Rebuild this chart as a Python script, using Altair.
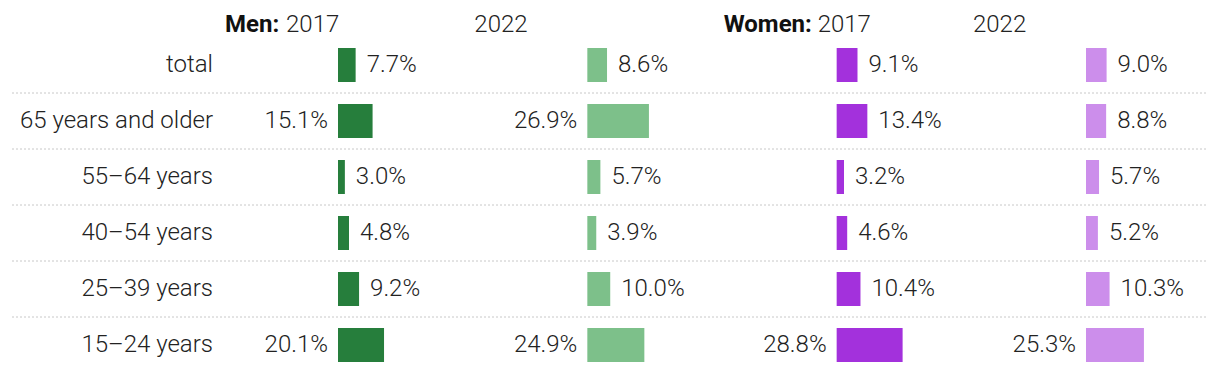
import altair as alt
import pandas as pd

# ---- data ----
ages = ["total", "65 years and older", "55–64 years", "40–54 years", "25–39 years", "15–24 years"]
groups = ["Men 2017", "Men 2022", "Women 2017", "Women 2022"]
men_2017 = [7.7, 15.1, 3.0, 4.8, 9.2, 20.1]
men_2022 = [8.6, 26.9, 5.7, 3.9, 10.0, 24.9]
women_2017 = [9.1, 13.4, 3.2, 4.6, 10.4, 28.8]
women_2022 = [9.0, 8.8, 5.7, 5.2, 10.3, 25.3]
header_sex = ["Men:", "", "Women:", ""]
header_year = ["2017", "2022", "2017", "2022"]
colors = ["#267e3c", "#7dc08a", "#a331dc", "#cc8eeb"]

# ---- layout (pixels) ----
W, H = 1204, 327
PX = 2.29           # pixels per percentage point
COL0 = 217          # left edge of first column (plot coords)
STEP = 249.33       # column pitch
ZERO = 113          # bar baseline offset inside a column
YEAR_DX = [61, 0, 94, 0]
FONT = "Roboto"
FS = 24
TXT = "#222222"

series = [men_2017, men_2022, women_2017, women_2022]
records = []
for k, (g, vals) in enumerate(zip(groups, series)):
    for a, v in zip(ages, vals):
        records.append({"age": a, "group": g, "col": k, "value": v})
df = pd.DataFrame(records)

rows_df = pd.DataFrame({"age": ages})
head_df = pd.DataFrame({"col": list(range(4)), "sex": header_sex, "year": header_year,
                        "ydx": YEAR_DX})

xscale = alt.Scale(domain=[0, W / PX], range=[0, W], nice=False, zero=False)
yscale = alt.Scale(domain=ages, paddingInner=0, paddingOuter=0, range=[0, 336])

base = alt.Chart(df).transform_calculate(
    x0=f"({COL0} + {ZERO} + datum.col * {STEP}) / {PX}",
).transform_calculate(
    x1="datum.x0 + datum.value",
    label="format(datum.value, '.1f') + '%'",
)

bars = base.mark_bar(height={"band": 34 / 56}).encode(
    x=alt.X("x0:Q", scale=xscale, axis=None),
    x2="x1:Q",
    y=alt.Y("age:N", scale=yscale, axis=None, sort=ages),
    color=alt.Color("group:N", scale=alt.Scale(domain=groups, range=colors), legend=None),
)

txt_kw = dict(font=FONT, fontSize=FS, fontWeight=300, color=TXT, baseline="middle")

lab_right = base.transform_filter("datum.value < 14").mark_text(align="left", dx=11, **txt_kw).encode(
    x=alt.X("x1:Q", scale=xscale, axis=None),
    y=alt.Y("age:N", scale=yscale, axis=None, sort=ages),
    text="label:N",
)
lab_left = base.transform_filter("datum.value >= 14").mark_text(align="right", dx=-10, **txt_kw).encode(
    x=alt.X("x0:Q", scale=xscale, axis=None),
    y=alt.Y("age:N", scale=yscale, axis=None, sort=ages),
    text="label:N",
)

rules = alt.Chart(rows_df).transform_filter("datum.age != 'total'").mark_rule(
    color="#c8c8c8", strokeWidth=1, strokeDash=[2, 2]
).encode(
    y=alt.Y("age:N", scale=yscale, axis=None, sort=ages, bandPosition=0),
    x=alt.value(4),
    x2=alt.value(1200),
)

row_labels = alt.Chart(rows_df).mark_text(align="right", **txt_kw).encode(
    y=alt.Y("age:N", scale=yscale, axis=None, sort=ages),
    x=alt.value(COL0 - 12),
    text="age:N",
)

head_base = alt.Chart(head_df).transform_calculate(
    hx=f"({COL0} + datum.col * {STEP}) / {PX}",
    yx=f"({COL0} + datum.col * {STEP} + datum.ydx) / {PX}",
)
head_sex = head_base.transform_filter("datum.sex != ''").mark_text(
    align="left", baseline="alphabetic", font=FONT, fontSize=FS, fontWeight="bold", color="#111111"
).encode(
    x=alt.X("hx:Q", scale=xscale, axis=None),
    y=alt.value(-5),
    text="sex:N",
)
head_year = head_base.mark_text(
    align="left", baseline="alphabetic", font=FONT, fontSize=FS, fontWeight=300, color=TXT
).encode(
    x=alt.X("yx:Q", scale=xscale, axis=None),
    y=alt.value(-5),
    text="year:N",
)

chart = alt.layer(rules, bars, lab_right, lab_left, row_labels, head_sex, head_year).properties(
    width=W, height=H,
    autosize=alt.AutoSizeParams(type="none"),
    padding={"left": 0, "top": 29, "right": 0, "bottom": 0},
).configure_view(stroke=None)

chart.save("out.html", embed_options={"renderer": "svg", "actions": False})
